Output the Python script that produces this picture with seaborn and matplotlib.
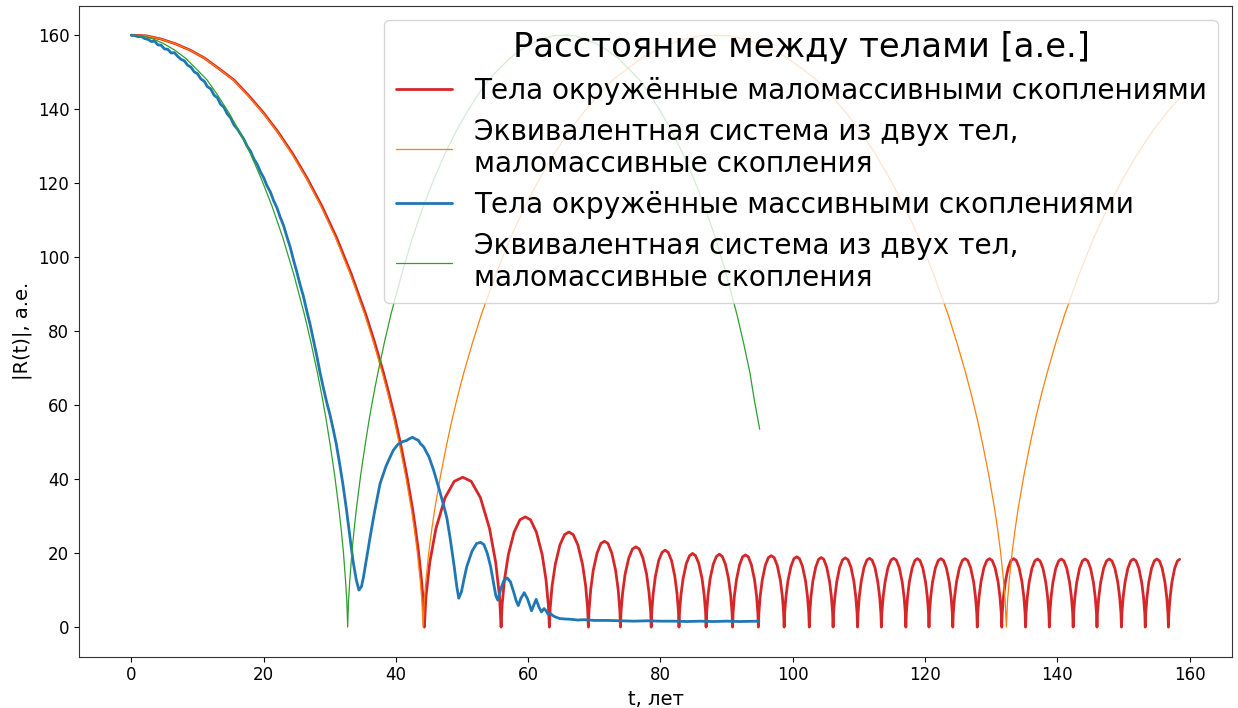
import matplotlib
matplotlib.use("Agg")
import matplotlib.pyplot as plt
import seaborn as sns
import pandas as pd

# ---------------- data ----------------
# red: bodies with low-mass clusters (fall, then bounces)
red_t = [
    0, 2.22, 4.43, 6.65, 8.86, 11.08, 13.29, 15.51, 17.72, 19.94, 22.15, 24.37, 26.58, 28.80,
    31.01, 33.23, 35.44, 36.77, 38.10, 38.98, 39.87, 40.76, 41.64, 42.53, 42.97, 43.41, 43.86, 44.12,
    44.30, 44.53, 45.11, 46.04, 47.43, 48.82, 50.10, 51.38, 52.77, 54.16, 55.09, 55.67,
    55.90, 56.05, 56.41, 57.00, 57.87, 58.75, 59.55, 60.35, 61.23, 62.11, 62.69, 63.05,
    63.20, 63.32, 63.61, 64.09, 64.79, 65.50, 66.15, 66.80, 67.51, 68.22, 68.69, 68.98,
    69.10, 69.20, 69.44, 69.83, 70.41, 70.99, 71.53, 72.06, 72.64, 73.22, 73.61, 73.85,
    73.95, 74.04, 74.28, 74.65, 75.21, 75.76, 76.28, 76.79, 77.34, 77.90, 78.27, 78.51,
    78.60, 78.68, 78.89, 79.23, 79.73, 80.24, 80.70, 81.16, 81.67, 82.17, 82.51, 82.72,
    82.80, 82.88, 83.09, 83.42, 83.91, 84.40, 84.85, 85.30, 85.79, 86.29, 86.61, 86.82,
    86.90, 86.98, 87.18, 87.50, 87.98, 88.46, 88.90, 89.34, 89.82, 90.30, 90.62, 90.82,
    90.90, 90.98, 91.17, 91.49, 91.95, 92.42, 92.85, 93.28, 93.75, 94.22, 94.53, 94.72,
    94.80, 94.88, 95.07, 95.39, 95.85, 96.32, 96.75, 97.18, 97.65, 98.12, 98.43, 98.62,
    98.70, 98.78, 98.97, 99.27, 99.73, 100.18, 100.60, 101.02, 101.47, 101.93, 102.23, 102.42,
    102.50, 102.57, 102.75, 103.04, 103.47, 103.90, 104.30, 104.70, 105.13, 105.56, 105.85, 106.03,
    106.10, 106.17, 106.36, 106.66, 107.10, 107.54, 107.95, 108.36, 108.80, 109.25, 109.54, 109.73,
    109.80, 109.87, 110.05, 110.34, 110.77, 111.20, 111.60, 112.00, 112.43, 112.86, 113.15, 113.33,
    113.40, 113.47, 113.66, 113.96, 114.40, 114.84, 115.25, 115.66, 116.10, 116.55, 116.84, 117.03,
    117.10, 117.17, 117.35, 117.63, 118.05, 118.47, 118.85, 119.24, 119.66, 120.08, 120.36, 120.53,
    120.60, 120.67, 120.85, 121.14, 121.57, 122.00, 122.40, 122.80, 123.23, 123.66, 123.95, 124.13,
    124.20, 124.27, 124.46, 124.76, 125.20, 125.64, 126.05, 126.46, 126.90, 127.35, 127.64, 127.83,
    127.90, 127.97, 128.16, 128.46, 128.90, 129.34, 129.75, 130.16, 130.60, 131.05, 131.34, 131.53,
    131.60, 131.67, 131.85, 132.14, 132.57, 133.00, 133.40, 133.80, 134.23, 134.66, 134.95, 135.13,
    135.20, 135.27, 135.45, 135.74, 136.17, 136.60, 137.00, 137.40, 137.83, 138.26, 138.55, 138.73,
    138.80, 138.87, 139.05, 139.34, 139.77, 140.20, 140.60, 141.00, 141.43, 141.86, 142.15, 142.33,
    142.40, 142.47, 142.65, 142.94, 143.37, 143.80, 144.20, 144.60, 145.03, 145.46, 145.75, 145.93,
    146.00, 146.07, 146.26, 146.56, 147.00, 147.44, 147.85, 148.26, 148.70, 149.15, 149.44, 149.63,
    149.70, 149.77, 149.95, 150.24, 150.67, 151.10, 151.50, 151.90, 152.33, 152.76, 153.05, 153.23,
    153.30, 153.37, 153.55, 153.83, 154.25, 154.67, 155.05, 155.44, 155.86, 156.28, 156.56, 156.73,
    156.80, 156.87, 157.05, 157.33, 157.75, 158.17, 158.50,
]
red_r = [
    160, 159.85, 159.0, 157.7, 156.0, 153.8, 150.9, 147.9, 143.7, 139.1, 133.9, 128.0, 121.3, 113.8,
    105.3, 95.5, 84.5, 77.0, 68.8, 62.8, 56.3, 49.0, 41.0, 31.8, 26.4, 20.4, 12.8, 7.2,
    0, 8.1, 17.4, 26.6, 35.0, 39.4, 40.5, 39.4, 35.0, 26.6, 17.4, 8.1,
    0, 5.9, 12.8, 19.6, 25.7, 29.0, 29.8, 29.0, 25.7, 19.6, 12.8, 5.9,
    0, 5.1, 11.1, 16.9, 22.2, 25.0, 25.7, 25.0, 22.2, 16.9, 11.1, 5.1,
    0, 4.6, 10.0, 15.3, 20.0, 22.6, 23.2, 22.6, 20.0, 15.3, 10.0, 4.6,
    0, 4.3, 9.3, 14.3, 18.7, 21.1, 21.7, 21.1, 18.7, 14.3, 9.3, 4.3,
    0, 4.1, 8.9, 13.7, 18.0, 20.2, 20.8, 20.2, 18.0, 13.7, 8.9, 4.1,
    0, 4.0, 8.6, 13.1, 17.2, 19.3, 19.9, 19.3, 17.2, 13.1, 8.6, 4.0,
    0, 3.9, 8.5, 13.0, 17.0, 19.1, 19.7, 19.1, 17.0, 13.0, 8.5, 3.9,
    0, 3.9, 8.4, 12.8, 16.8, 19.0, 19.5, 19.0, 16.8, 12.8, 8.4, 3.9,
    0, 3.8, 8.3, 12.7, 16.7, 18.8, 19.3, 18.8, 16.7, 12.7, 8.3, 3.8,
    0, 3.8, 8.2, 12.5, 16.4, 18.5, 19.0, 18.5, 16.4, 12.5, 8.2, 3.8,
    0, 3.7, 8.1, 12.4, 16.2, 18.3, 18.8, 18.3, 16.2, 12.4, 8.1, 3.7,
    0, 3.7, 8.0, 12.3, 16.2, 18.2, 18.7, 18.2, 16.2, 12.3, 8.0, 3.7,
    0, 3.7, 8.0, 12.2, 16.1, 18.1, 18.6, 18.1, 16.1, 12.2, 8.0, 3.7,
    0, 3.7, 8.0, 12.2, 16.1, 18.1, 18.6, 18.1, 16.1, 12.2, 8.0, 3.7,
    0, 3.7, 8.0, 12.2, 16.0, 18.0, 18.5, 18.0, 16.0, 12.2, 8.0, 3.7,
    0, 3.7, 8.0, 12.2, 16.0, 18.0, 18.5, 18.0, 16.0, 12.2, 8.0, 3.7,
    0, 3.7, 8.0, 12.2, 16.0, 18.0, 18.5, 18.0, 16.0, 12.2, 8.0, 3.7,
    0, 3.7, 8.0, 12.2, 16.0, 18.0, 18.5, 18.0, 16.0, 12.2, 8.0, 3.7,
    0, 3.7, 8.0, 12.2, 16.0, 18.0, 18.5, 18.0, 16.0, 12.2, 8.0, 3.7,
    0, 3.7, 7.9, 12.1, 15.9, 17.9, 18.4, 17.9, 15.9, 12.1, 7.9, 3.7,
    0, 3.7, 7.9, 12.1, 15.9, 17.9, 18.4, 17.9, 15.9, 12.1, 7.9, 3.7,
    0, 3.7, 7.9, 12.1, 15.9, 17.9, 18.4, 17.9, 15.9, 12.1, 7.9, 3.7,
    0, 3.7, 7.9, 12.1, 15.9, 17.9, 18.4, 17.9, 15.9, 12.1, 7.9, 3.7,
    0, 3.7, 7.9, 12.1, 15.9, 17.9, 18.4, 17.9, 15.9, 12.1, 7.9, 3.7,
    0, 3.7, 7.9, 12.1, 15.9, 17.9, 18.4, 17.9, 15.9, 12.1, 7.9, 3.7,
    0, 3.7, 7.9, 12.1, 15.9, 17.9, 18.3,
]

# orange: equivalent two-body system, low-mass clusters
orange_t = [
    0, 2.21, 4.41, 6.62, 8.82, 11.03, 13.23, 15.44, 17.64, 19.85, 22.05, 24.26, 26.46, 28.67, 30.87,
    33.08, 35.28, 36.60, 37.93, 38.81, 39.69, 40.57, 41.45, 42.34, 42.78, 43.22, 43.66, 43.92, 44.10,
    44.28, 44.54, 44.98, 45.42, 45.86, 46.75, 47.63, 48.51, 49.39, 50.27, 51.60, 52.92, 55.13, 57.33,
    59.54, 61.74, 63.95, 66.15, 68.36, 70.56, 72.77, 74.97, 77.18, 79.38, 81.59, 83.79, 86.00, 88.20,
    90.41, 92.61, 94.82, 97.02, 99.23, 101.43, 103.64, 105.84, 108.05, 110.25, 112.46, 114.66, 116.87,
    119.07, 121.28, 123.48, 124.80, 126.13, 127.01, 127.89, 128.77, 129.65, 130.54, 130.98, 131.42,
    131.86, 132.12, 132.30,
    132.48, 132.74, 133.18, 133.62, 134.06, 134.95, 135.83, 136.71, 137.59, 138.47, 139.80, 141.12,
    143.33, 145.53, 147.74, 149.94, 152.15, 154.35, 156.56, 158.50,
]
orange_r = [
    160, 159.85, 159.0, 157.7, 156.0, 153.8, 150.9, 147.9, 143.7, 139.1, 133.9, 128.0, 121.3, 113.8, 105.3,
    95.5, 84.5, 77.0, 68.8, 62.8, 56.3, 49.0, 41.0, 31.8, 26.4, 20.4, 12.8, 7.2, 0,
    7.2, 12.8, 20.4, 26.4, 31.8, 41.0, 49.0, 56.3, 62.8, 68.8, 77.0, 84.5, 95.5, 105.3,
    113.8, 121.3, 128.0, 133.9, 139.1, 143.7, 147.9, 150.9, 153.8, 156.0, 157.7, 159.0, 159.85, 160,
    159.85, 159.0, 157.7, 156.0, 153.8, 150.9, 147.9, 143.7, 139.1, 133.9, 128.0, 121.3, 113.8,
    105.3, 95.5, 84.5, 77.0, 68.8, 62.8, 56.3, 49.0, 41.0, 31.8, 26.4, 20.4,
    12.8, 7.2, 0,
    7.2, 12.8, 20.4, 26.4, 31.8, 41.0, 49.0, 56.3, 62.8, 68.8, 77.0, 84.5,
    95.5, 105.3, 113.8, 121.3, 128.0, 133.9, 139.1, 143.0,
]

# blue: bodies with massive clusters
blue_t = [0.0, 0.5, 1.0, 1.5, 2.0, 2.5, 3.0, 3.5, 4.0, 4.5, 5.0, 5.5, 6.0, 6.5, 7.0, 7.5, 8.0, 8.5, 9.0, 9.5,
          10.0, 10.5, 11.0, 11.5, 12.0, 12.5, 13.0, 13.5, 14.0, 14.5, 15.0, 15.5, 16.0, 16.5, 17.0, 17.5,
          18.0, 18.5, 19.0, 19.5, 20.0, 20.5, 21.0, 21.5, 22.0, 22.5, 23.0, 23.5, 24.0, 24.5, 25.0, 25.5,
          26.0, 26.5, 27.0, 27.5, 28.0, 28.5, 29.0, 29.5, 30.0, 30.5, 31.0, 31.5, 32.0, 32.5, 33.0, 33.5,
          34.0, 34.4, 34.8, 35.1, 35.6, 36.1, 36.8, 37.6, 38.5, 39.0, 39.6, 40.3, 41.1, 41.6, 42.0, 42.5,
          43.0, 43.4, 43.7, 44.2, 45.0, 45.7, 46.5, 47.2, 47.7, 48.2, 48.8, 49.2, 49.5, 49.9, 50.3, 50.7,
          51.5, 52.2, 52.8, 53.3, 53.8, 54.3, 54.8, 55.1, 55.4, 55.8, 56.3, 56.8, 57.3, 57.8, 58.2, 58.5,
          58.9, 59.4, 59.9, 60.5, 60.9, 61.2, 61.6, 62.0, 62.4, 62.7, 63.0, 63.4, 63.8, 64.3, 64.8, 65.5,
          66.5, 67.5, 68.5, 70.0, 72.0, 74.0, 76.0, 78.0, 80.0, 82.0, 84.0, 86.0, 88.0, 90.0, 92.0, 94.9]
blue_r = [160.0, 159.9, 159.6, 159.7, 159.1, 158.9, 158.3, 158.4, 157.4, 157.3, 156.3, 156.2, 155.2, 155.3,
          154.3, 153.5, 153.1, 151.9, 151.4, 150.1, 149.6, 148.2, 147.6, 146.1, 145.5, 143.8, 143.1, 141.3,
          140.5, 138.7, 137.7, 135.8, 134.7, 133.3, 131.9, 130.0, 128.7, 126.6, 125.2, 123.1, 121.5, 119.3,
          117.7, 115.3, 113.4, 110.8, 108.6, 105.6, 102.8, 99.3, 96.1, 92.6, 89.5, 85.6, 82.0, 77.8, 73.6,
          69.0, 64.9, 61.0, 57.6, 53.6, 49.3, 44.0, 38.4, 32.0, 25.0, 18.0, 12.8, 10.0, 11.0, 13.6, 19.0,
          24.4, 31.5, 38.8, 43.5, 45.5, 47.8, 49.4, 50.2, 50.4, 50.9, 51.3, 50.8, 50.5, 49.6, 48.7, 46.0,
          42.4, 37.5, 33.0, 29.5, 24.0, 16.5, 11.0, 7.8, 9.5, 13.0, 16.3, 20.5, 22.6, 22.9, 22.3, 20.0,
          16.5, 11.5, 8.5, 7.3, 10.0, 12.5, 13.3, 12.3, 9.5, 7.0, 5.8, 7.8, 9.3, 7.6, 4.4, 6.2, 7.5, 5.5,
          4.1, 5.0, 4.4, 3.5, 3.6, 3.0, 2.6, 2.3, 2.2, 2.1, 1.9, 2.0, 1.8, 1.8, 1.7, 1.6, 1.7, 1.6, 1.6,
          1.5, 1.6, 1.5, 1.6, 1.5, 1.6]

# green: equivalent two-body system (second curve)
green_t = [
    0, 1.64, 3.27, 4.91, 6.54, 8.18, 9.81, 11.45, 13.08, 14.72, 16.35, 17.99, 19.62, 21.26, 22.89,
    24.53, 26.16, 27.14, 28.12, 28.78, 29.43, 30.08, 30.74, 31.39, 31.72, 32.05, 32.37, 32.57, 32.70,
    32.83, 33.03, 33.35, 33.68, 34.01, 34.66, 35.32, 35.97, 36.62, 37.28, 38.26, 39.24, 40.88, 42.51,
    44.15, 45.78, 47.42, 49.05, 50.69, 52.32, 53.96, 55.59, 57.23, 58.86, 60.50, 62.13, 63.77, 65.40,
    67.04, 68.67, 70.31, 71.94, 73.58, 75.21, 76.85, 78.48, 80.12, 81.75, 83.39, 85.02, 86.66, 88.29,
    89.93, 91.56, 92.54, 93.52, 94.18, 95.00,
]
green_r = [
    160, 159.85, 159.0, 157.7, 156.0, 153.8, 150.9, 147.9, 143.7, 139.1, 133.9, 128.0, 121.3, 113.8, 105.3,
    95.5, 84.5, 77.0, 68.8, 62.8, 56.3, 49.0, 41.0, 31.8, 26.4, 20.4, 12.8, 7.2, 0,
    7.2, 12.8, 20.4, 26.4, 31.8, 41.0, 49.0, 56.3, 62.8, 68.8, 77.0, 84.5, 95.5, 105.3,
    113.8, 121.3, 128.0, 133.9, 139.1, 143.7, 147.9, 150.9, 153.8, 156.0, 157.7, 159.0, 159.85, 160,
    159.85, 159.0, 157.7, 156.0, 153.8, 150.9, 147.9, 143.7, 139.1, 133.9, 128.0, 121.3, 113.8, 105.3,
    95.5, 84.5, 77.0, 68.8, 61.5, 53.5,
]

labels = [
    "Тела окружённые маломассивными скоплениями",
    "Эквивалентная система из двух тел,\nмаломассивные скопления",
    "Тела окружённые массивными скоплениями",
    "Эквивалентная система из двух тел,\nмаломассивные скопления",
]
legend_title = "Расстояние между телами [а.е.]"
x_label = "t, лет"
y_label = "|R(t)|, а.е."
ticks = [0, 20, 40, 60, 80, 100, 120, 140, 160]

# ---------------- plotting ----------------
sns.set_style("ticks")
plt.rcParams["font.family"] = ["DejaVu Sans"]
plt.rcParams.update({
    "text.color": "black", "axes.labelcolor": "black",
    "xtick.color": "black", "ytick.color": "black",
    "axes.edgecolor": "0.2",
})

fig, ax = plt.subplots(figsize=(12.38, 7.08), dpi=100)
fig.subplots_adjust(left=0.0638, right=0.9952, bottom=0.0725, top=0.992)

series = [
    (red_t, red_r, "#d62728", 2.0),
    (orange_t, orange_r, "#ff7f0e", 0.9),
    (blue_t, blue_r, "#1f77b4", 2.0),
    (green_t, green_r, "#2ca02c", 0.9),
]
for (t, r, c, lw), lab in zip(series, labels):
    df = pd.DataFrame({"t": t, "r": r})
    sns.lineplot(data=df, x="t", y="r", ax=ax, color=c, linewidth=lw, label=lab,
                 sort=False, estimator=None)

ax.set_xlabel(x_label, fontsize=14)
ax.set_ylabel(y_label, fontsize=14)
ax.tick_params(labelsize=12)
ax.set_xticks(ticks)
ax.set_yticks(ticks)

ax.legend(loc="upper right", fontsize=20.15, title=legend_title, title_fontsize=24.4,
          labelspacing=0.46)

fig.savefig("out.png", dpi=100)
